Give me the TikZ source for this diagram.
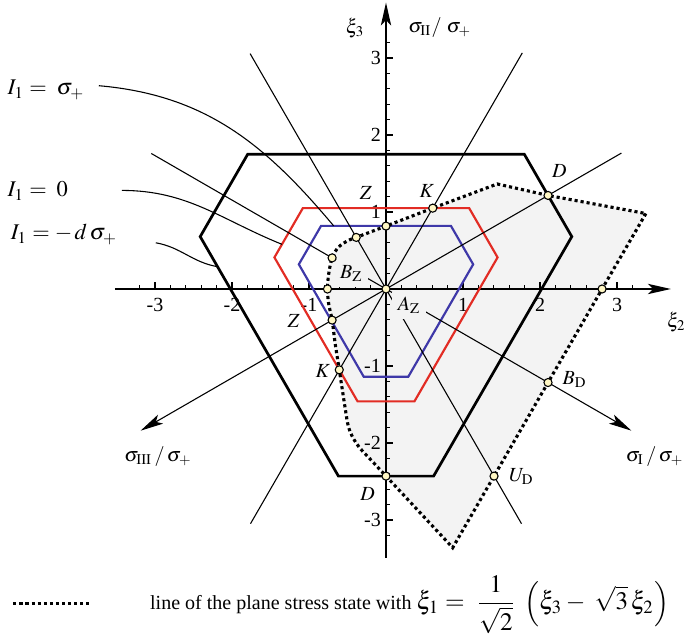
\documentclass[tikz,border=0pt]{standalone}
\usepackage{mathptmx}
\usepackage{fontspec}
\setmainfont{Liberation Serif}
\usetikzlibrary{arrows.meta, positioning, calc}

\definecolor{planegray}{gray}{0.953}
\definecolor{hexred}{RGB}{226,44,36}
\definecolor{hexblue}{RGB}{62,56,168}
\definecolor{pointfill}{RGB}{255,247,196}

% outline of the plane stress state
\newcommand{\planestress}{(3.375,0.98) -- (2.806,0) -- (2.104,-1.215) -- (1.403,-2.43) -- (0.866,-3.36) -- (0,-2.43) -- (-0.22,-2.194)
  -- plot[smooth, tension=0.55] coordinates {(-0.22,-2.194) (-0.34,-2.065) (-0.43,-1.93) (-0.49,-1.78) (-0.53,-1.55) (-0.607,-1.05) (-0.66,-0.71) (-0.70,-0.404) (-0.745,-0.19) (-0.76,0) (-0.745,0.19) (-0.70,0.404) (-0.62,0.54) (-0.50,0.625) (-0.387,0.67)}
  -- (0,0.817) -- (0.607,1.05) -- (1.445,1.364) -- (2.104,1.215) -- cycle}

\begin{document}
\begin{tikzpicture}[
    font=\fontsize{7.4}{9}\selectfont,
    axis/.style={line width=0.7pt, -{Stealth[length=8.5pt, width=3.8pt, inset=2pt]}},
    tick/.style={line width=0.5pt},
    ticklabel/.style={inner sep=0pt},
    thinline/.style={line width=0.4pt},
    ray/.style={line width=0.4pt, -{Stealth[length=8.5pt, width=3.8pt, inset=2pt]}},
    hexk/.style={line width=1pt, draw=black},
    hexr/.style={line width=0.8pt, draw=hexred},
    hexb/.style={line width=0.8pt, draw=hexblue},
    planeline/.style={line width=1.15pt, dash pattern=on 1.15pt off 1.1pt},
    point/.style={circle, draw=black, fill=pointfill, line width=0.4pt, inner sep=0pt, minimum size=3pt},
    label/.style={inner sep=1pt},
    masked/.style={fill=planegray, inner sep=2pt},
    leader/.style={line width=0.4pt},
    Ilabel/.style={inner sep=0pt, anchor=base west, font=\fontsize{8.3}{10}\selectfont}
]
\useasboundingbox (-5.013,-4.545) rectangle (3.870,3.753);

% Plane stress region
\fill[planegray] \planestress;

% Axes
\coordinate (O) at (0,0);
\coordinate (xl) at (-3.52,0);
\coordinate (xr) at (3.70,0);
\coordinate (yb) at (0,-3.49);
\coordinate (yt) at (0,3.72);
\draw[axis] (xl) -- (xr);
\draw[axis] (yb) -- (yt);
\foreach \i in {-16,...,16} {
    \draw[tick] (\i/5,0) -- ++(0,0.05);
    \draw[tick] (0,\i/5) -- ++(0.05,0);
}
\foreach \i [count=\n] in {-3,-2,-1,1,2,3} {
    \draw[tick] (\i,0) -- ++(0,0.09);
    \draw[tick] (0,\i) -- ++(0.09,0);
    \node[ticklabel, anchor=north] (tx\n) at (\i,-0.11) {\i};
    \node[ticklabel, anchor=east] (ty\n) at (-0.06,\i) {\i};
}

% Sections I1 = const
\draw[hexk] (-1.796,1.75) -- (1.796,1.75) -- (2.413,0.68) -- (0.618,-2.43) -- (-0.618,-2.43) -- (-2.413,0.68) -- cycle;
\draw[hexr] (-1.080,1.05) -- (1.080,1.05) -- (1.449,0.41) -- (0.369,-1.46) -- (-0.369,-1.46) -- (-1.449,0.41) -- cycle;
\draw[hexb] (-0.843,0.82) -- (0.843,0.82) -- (1.132,0.32) -- (0.289,-1.14) -- (-0.289,-1.14) -- (-1.132,0.32) -- cycle;

% Meridians and principal stress axes
\coordinate (u30) at (30:3.53);
\coordinate (d210) at (210:3.68);
\coordinate (u150) at (150:3.52);
\coordinate (d330) at (-30:3.68);
\coordinate (u60) at (60:3.54);
\coordinate (d240) at (240:3.52);
\coordinate (u120) at (120:3.53);
\coordinate (d300) at (300:3.52);
\draw[ray] (u30) -- (d210);
\draw[ray] (u150) -- (d330);
\draw[thinline] (u60) -- (d240);
\draw[thinline] (u120) -- (d300);

% Plane stress line
\draw[planeline] \planestress;

% Axis labels
\node[label] (xi3) at (-0.40,3.39) {$\xi_3$};
\node[label] (sII) at (0.70,3.40) {$\sigma_{\mathrm{II}}/\ \sigma_+$};
\node[label] (sIII) at (-2.96,-2.18) {$\sigma_{\mathrm{III}}\,/\,\sigma_+$};
\node[label] (sI) at (3.49,-2.17) {$\sigma_{\mathrm{I}}\,/\,\sigma_+$};
\node[label, anchor=west] (xi2) at (3.61,-0.43) {$\xi_2$};

% Point labels
\node[masked] (lBZ) at (-0.45,0.20) {$B_{\mathrm{Z}}$};
\node[masked] (lAZ) at (0.30,-0.21) {$A_{\mathrm{Z}}$};
\node[label] (lZu) at (-0.26,1.25) {$Z$};
\node[label] (lKu) at (0.53,1.27) {$K$};
\node[label] (lDu) at (2.25,1.53) {$D$};
\node[label] (lZl) at (-1.20,-0.41) {$Z$};
\node[label] (lKl) at (-0.82,-1.06) {$K$};
\node[label] (lBD) at (2.45,-1.17) {$B_{\mathrm{D}}$};
\node[label] (lUD) at (1.76,-2.44) {$U_{\mathrm{D}}$};
\node[label] (lDl) at (-0.24,-2.66) {$D$};

% Points
\node[point] (pAZ) at (O) {};
\node[point] (pBZ) at (-0.70,0.404) {};
\node[point] (pM) at (-0.387,0.67) {};
\node[point] (pZu) at (0,0.817) {};
\node[point] (pKu) at (0.607,1.05) {};
\node[point] (pDu) at (2.104,1.215) {};
\node[point] (pX) at (2.806,0) {};
\node[point] (pBD) at (2.104,-1.215) {};
\node[point] (pUD) at (1.403,-2.43) {};
\node[point] (pDl) at (0,-2.43) {};
\node[point] (pKl) at (-0.607,-1.05) {};
\node[point] (pZl) at (-0.70,-0.404) {};
\node[point] (pL) at (-0.76,0) {};

% I1 labels
\node[Ilabel] (Isig) at (-4.92,2.52) {$I_1 = \;\sigma_+$};
\node[Ilabel] (Izero) at (-4.92,1.195) {$I_1 = \;0$};
\node[Ilabel] (Id) at (-4.88,0.64) {$I_1 = -\,d\,\sigma_+$};
\coordinate (s1) at (-3.73,2.64);
\coordinate (s2) at (-3.43,1.28);
\coordinate (s3) at (-2.99,0.60);
\coordinate (hb) at (-0.68,0.82);
\coordinate (hr) at (-1.351,0.58);
\coordinate (hk) at (-2.19,0.29);
\draw[leader] (s1) to[out=-5, in=130] (hb);
\draw[leader] (s2) to[out=0, in=158] (hr);
\draw[leader] (s3) to[out=-10, in=170] (hk);

% Legend
\coordinate (lgA) at (-4.84,-4.08);
\coordinate (lgB) at (-3.83,-4.08);
\draw[planeline] (lgA) -- (lgB);
\node[anchor=west, inner sep=0pt] (legend) at (-3.07,-4.10) {line of the plane stress state with {\fontsize{9.3}{11}\selectfont$\xi_1 = \;\displaystyle\frac{1}{\sqrt{2}}\;\left(\xi_3 -\; \sqrt{3}\,\xi_2\right)$}};

\end{tikzpicture}
\end{document}
